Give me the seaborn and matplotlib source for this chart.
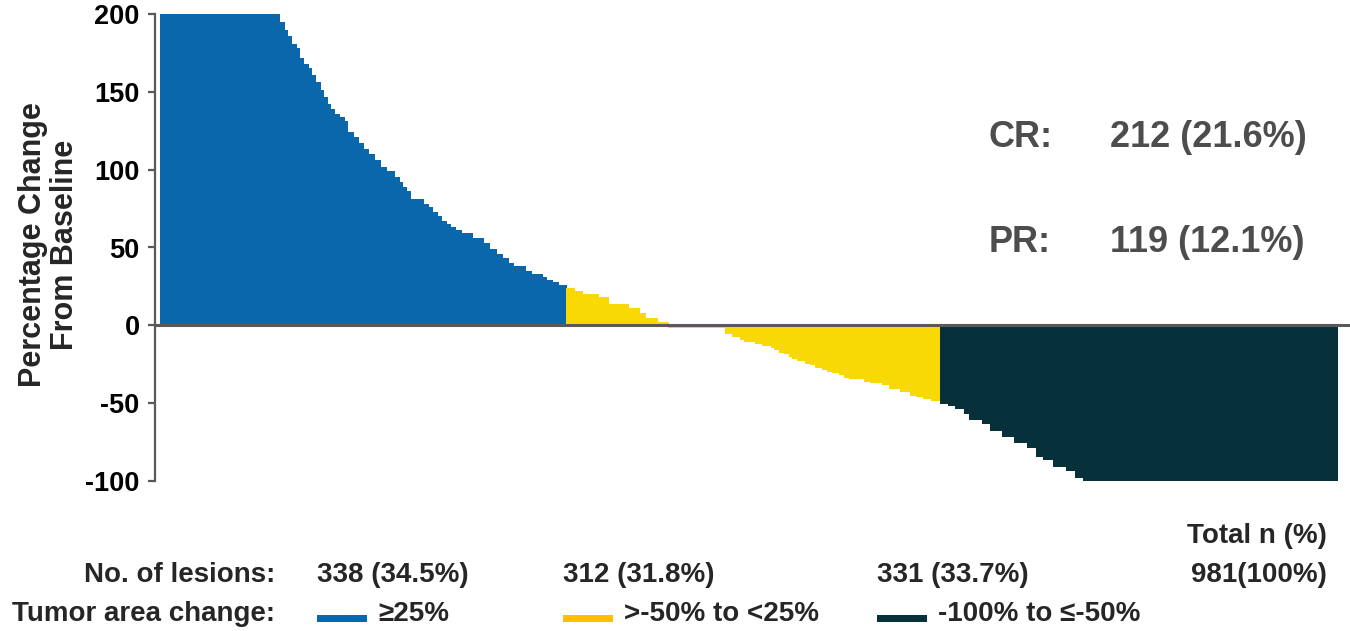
import numpy as np
import pandas as pd
import matplotlib
matplotlib.use("Agg")
import matplotlib.pyplot as plt
import seaborn as sns
from matplotlib.patches import Rectangle

# ---------------- data (run-length: value, number of lesions) ----------------
blue_values = [200, 195, 190, 186, 181, 178, 172, 168, 165, 161, 156, 151, 147, 142, 139,
               136, 134, 131, 124, 121, 117, 113, 110, 106, 102, 99, 95, 92, 89, 86, 81,
               78, 76, 73, 70, 67, 65, 63, 61, 59, 56, 53, 49, 46, 43, 40, 38, 35, 33,
               31, 29, 28, 26]
blue_counts = [99, 4, 3, 3, 4, 3, 3, 4, 3, 3, 4, 3, 3, 3, 3,
               4, 4, 3, 5, 4, 4, 4, 5, 5, 5, 7, 4, 3, 3, 3, 11,
               4, 4, 4, 3, 4, 4, 4, 5, 9, 9, 5, 6, 5, 5, 4, 10, 5, 9,
               4, 5, 5, 6]

yellow_values = [24, 22, 20, 18, 14, 11, 8, 5, 2, -1, -5, -7, -8.5, -10, -11.5, -12.5, -14,
                 -15.5, -17, -18, -20, -21, -22, -24, -25, -26.5, -28, -29.5, -30, -31.5,
                 -33, -34, -35.5, -36.5, -38, -40, -42, -44.5, -45.5, -47, -48]
yellow_counts = [7, 7, 13, 8, 17, 9, 5, 10, 9, 48, 6, 6, 4, 9, 6, 7, 3,
                 4, 4, 4, 3, 4, 7, 4, 4, 6, 4, 4, 6, 4,
                 4, 13, 5, 10, 6, 9, 8, 5, 6, 7, 7]

dark_values = [-50, -51, -53, -56, -60, -63, -67.5, -71, -75, -78, -84, -86, -90.5, -93, -97.5, -100]
dark_counts = [7, 6, 7, 4, 11, 7, 10, 10, 11, 7, 6, 8, 11, 8, 6, 212]

groups = ["\u226525%", ">-50% to <25%", "-100% to \u2264-50%"]
group_counts = ["338 (34.5%)", "312 (31.8%)", "331 (33.7%)"]
total_label = "981(100%)"
cr_label, cr_value = "CR:", "212 (21.6%)"
pr_label, pr_value = "PR:", "119 (12.1%)"
yticks = [-100, -50, 0, 50, 100, 150, 200]

colors = {"\u226525%": "#0b67ab", ">-50% to <25%": "#f8d906", "-100% to \u2264-50%": "#07313a"}
legend_colors = ["#0b67ab", "#ffc000", "#07313a"]

vals = np.concatenate([np.repeat(blue_values, blue_counts),
                       np.repeat(yellow_values, yellow_counts),
                       np.repeat(dark_values, dark_counts)])
grp = ([groups[0]] * sum(blue_counts) + [groups[1]] * sum(yellow_counts)
       + [groups[2]] * sum(dark_counts))
df = pd.DataFrame({"idx": np.arange(len(vals)), "val": vals, "grp": grp})

# ---------------- figure ----------------
sns.set_theme(style="white")
plt.rcParams["font.family"] = ["Liberation Sans", "DejaVu Sans"]
W, H = 1350, 631
fig = plt.figure(figsize=(W / 100, H / 100), dpi=100)
ax = fig.add_axes([155 / W, 1 - 481 / H, (W - 155) / W, (481 - 14) / H])

sns.barplot(data=df, x="idx", y="val", hue="grp", palette=colors, native_scale=True,
            width=1.0, dodge=False, legend=False, ax=ax, linewidth=0, saturation=1)
for p in ax.patches:
    p.set_edgecolor(p.get_facecolor())
    p.set_linewidth(0.4)
    p.set_antialiased(False)

n = len(vals)
ax.set_xlim(-0.5 - 5 / 1.2, n - 0.5 + 13 / 1.2)
ax.set_ylim(-100, 200)
ax.axhline(0, color="#595959", lw=2.2, zorder=5)

for s in ["top", "right", "bottom"]:
    ax.spines[s].set_visible(False)
ax.spines["left"].set_color("#595959")
ax.spines["left"].set_linewidth(1.6)
ax.set_xticks([])
ax.set_yticks(yticks)
ax.set_yticklabels([str(t) for t in yticks], fontsize=19.5, fontweight="bold", color="black")
ax.tick_params(axis="y", direction="out", length=5, width=1.6, color="#595959", pad=6, left=True)
ax.set_xlabel("")
ax.set_ylabel("")

fig.text(49 / W, 1 - 245 / H, "Percentage Change\nFrom Baseline", rotation=90,
         ha="center", va="center", fontsize=22, fontweight="bold", linespacing=1.12)

# CR / PR annotation
gray = "#4d4d4d"
for lab, val, yb in [(cr_label, cr_value, 147), (pr_label, pr_value, 252)]:
    fig.text(989 / W, 1 - yb / H, lab, ha="left", va="baseline", fontsize=26,
             fontweight="bold", color=gray)
    fig.text(1110 / W, 1 - yb / H, val, ha="left", va="baseline", fontsize=26,
             fontweight="bold", color=gray)

# bottom table
fs = 20
fig.text(1327 / W, 1 - 543 / H, "Total n (%)", ha="right", va="baseline", fontsize=fs, fontweight="bold")
fig.text(275 / W, 1 - 582 / H, "No. of lesions:", ha="right", va="baseline", fontsize=fs, fontweight="bold")
fig.text(275 / W, 1 - 621 / H, "Tumor area change:", ha="right", va="baseline", fontsize=fs, fontweight="bold")
col_x = [317, 563, 877]
for cx, cnt, g, lc in zip(col_x, group_counts, groups, legend_colors):
    fig.text(cx / W, 1 - 582 / H, cnt, ha="left", va="baseline", fontsize=fs, fontweight="bold")
    fig.patches.append(Rectangle((cx / W, 1 - 622 / H), 50 / W, 7 / H, transform=fig.transFigure,
                                 facecolor=lc, edgecolor="none"))
    fig.text((cx + 61) / W, 1 - 621 / H, g, ha="left", va="baseline", fontsize=fs, fontweight="bold")
fig.text(1327 / W, 1 - 582 / H, total_label, ha="right", va="baseline", fontsize=fs, fontweight="bold")

fig.savefig("out.png", dpi=100)
